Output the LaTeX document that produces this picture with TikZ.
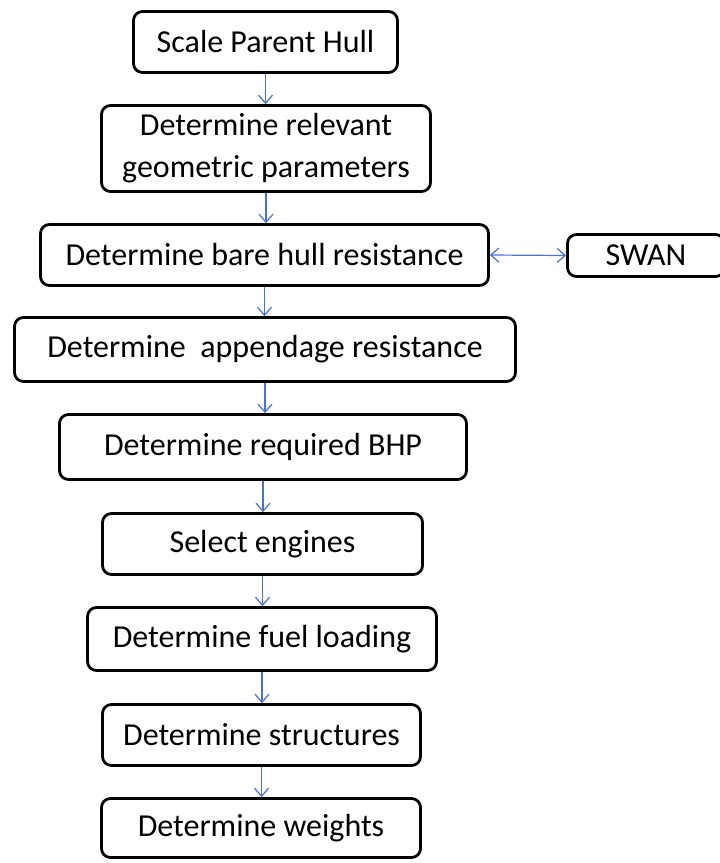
\documentclass[tikz,border=0pt]{standalone}
\usepackage{fontspec}
\setmainfont{Carlito}
\usetikzlibrary{arrows.meta}
\definecolor{arrowblue}{RGB}{72,112,218}
\begin{document}
\begin{tikzpicture}[x=1pt,y=-1pt,
  box/.style={draw=black, line width=2.8pt, rounded corners=9pt, inner sep=0pt,
    align=center, font=\fontsize{32}{42}\selectfont},
  flow/.style={draw=arrowblue, line width=1.2pt, -{Straight Barb[length=8pt,width=14pt]}},
  biflow/.style={draw=arrowblue, line width=1.2pt, {Straight Barb[length=8pt,width=14pt]}-{Straight Barb[length=8pt,width=14pt]}}]
\useasboundingbox (0,0) rectangle (720,863);
\node[box, minimum width=264pt, minimum height=61pt] (b1) at (265.5,42) {Scale Parent Hull};
\node[box, minimum width=329pt, minimum height=86pt] (b2) at (266,148.5) {Determine relevant\\geometric parameters};
\node[box, minimum width=448pt, minimum height=61pt] (b3) at (264.5,255) {Determine bare hull resistance};
\node[box, minimum width=157pt, minimum height=42pt] (swan) at (646,255.5) {SWAN};
\node[box, minimum width=501pt, minimum height=64pt] (b4) at (265,349.5) {Determine\ \ appendage resistance};
\node[box, minimum width=407pt, minimum height=65pt] (b5) at (263,447) {Determine required BHP};
\node[box, minimum width=320pt, minimum height=61pt] (b6) at (262.5,544) {Select engines};
\node[box, minimum width=349pt, minimum height=63pt] (b7) at (262,639) {Determine fuel loading};
\node[box, minimum width=318pt, minimum height=61pt] (b8) at (261.5,735) {Determine structures};
\node[box, minimum width=319pt, minimum height=59pt] (b9) at (261,828) {Determine weights};
\draw[flow] (b1.south) -- (b1.south |- b2.north);
\draw[flow] (b2.south) -- (b2.south |- b3.north);
\draw[flow] (b3.south) -- (b3.south |- b4.north);
\draw[flow] (b4.south) -- (b4.south |- b5.north);
\draw[flow] (b5.south) -- (b5.south |- b6.north);
\draw[flow] (b6.south) -- (b6.south |- b7.north);
\draw[flow] (b7.south) -- (b7.south |- b8.north);
\draw[flow] (b8.south) -- (b8.south |- b9.north);
\draw[biflow] (b3.east) -- (swan.west);
\end{tikzpicture}
\end{document}
